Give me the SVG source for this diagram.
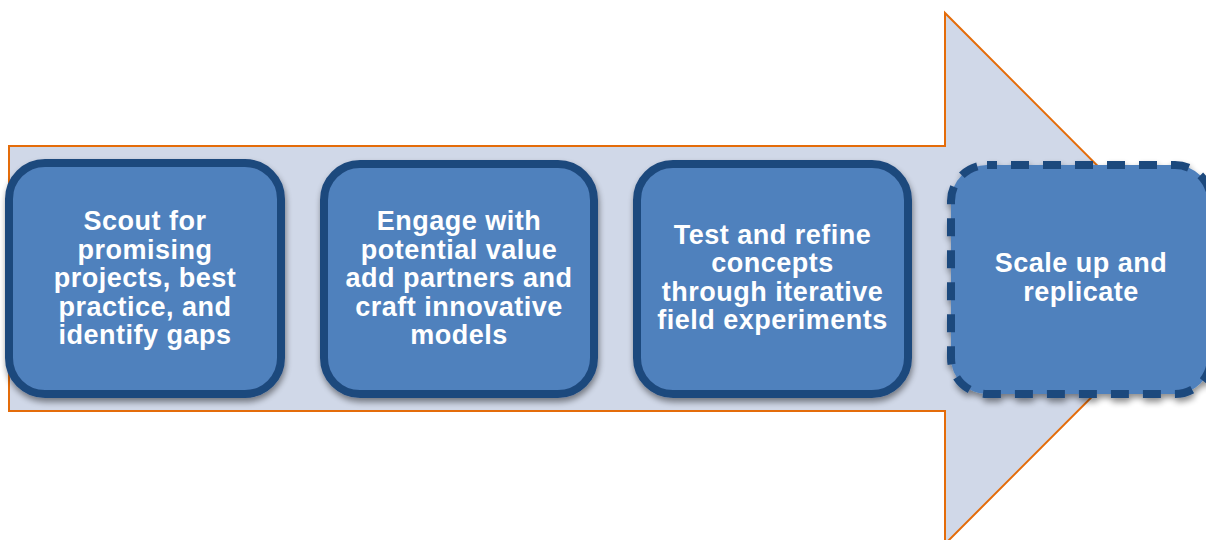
<svg xmlns="http://www.w3.org/2000/svg" width="1206" height="540" viewBox="0 0 1206 540">
<style>
.box{fill:#4F81BD;stroke:#1F497D;stroke-width:8}
.lbl{font-family:"Liberation Sans",Arial,sans-serif;font-weight:bold;font-size:27px;letter-spacing:0.5px;fill:#FFFFFF;text-anchor:middle}
</style>
<defs>
<filter id="sh" x="-10%" y="-10%" width="125%" height="125%">
<feGaussianBlur in="SourceAlpha" stdDeviation="3"/>
<feOffset dx="1" dy="4" result="b"/>
<feComponentTransfer><feFuncA type="linear" slope="0.45"/></feComponentTransfer>
<feMerge><feMergeNode/><feMergeNode in="SourceGraphic"/></feMerge>
</filter>
</defs>
<rect width="1206" height="540" fill="#FFFFFF"/>
<g id="connectors">
<polygon id="big-arrow" points="9,146 945,146 945,13 1210,278.5 945,544 945,411 9,411" fill="#D0D8E8" stroke="#E46C0A" stroke-width="2"/>
</g>
<g id="node1">
<rect class="box" x="9" y="163" width="272" height="231" rx="36" filter="url(#sh)"/>
<text class="lbl" x="145"><tspan x="145" y="230">Scout for</tspan><tspan x="145" y="258.5">promising</tspan><tspan x="145" y="287">projects, best</tspan><tspan x="145" y="315.5">practice, and</tspan><tspan x="145" y="344">identify gaps</tspan></text>
</g>
<g id="node2">
<rect class="box" x="324" y="164" width="270" height="230" rx="36" filter="url(#sh)"/>
<text class="lbl" x="459"><tspan x="459" y="230">Engage with</tspan><tspan x="459" y="258.5">potential value</tspan><tspan x="459" y="287">add partners and</tspan><tspan x="459" y="315.5">craft innovative</tspan><tspan x="459" y="344">models</tspan></text>
</g>
<g id="node3">
<rect class="box" x="637" y="164" width="271" height="230" rx="36" filter="url(#sh)"/>
<text class="lbl" x="772.5"><tspan x="772.5" y="243.5">Test and refine</tspan><tspan x="772.5" y="272">concepts</tspan><tspan x="772.5" y="300.5">through iterative</tspan><tspan x="772.5" y="329">field experiments</tspan></text>
</g>
<g id="node4">
<rect class="box" x="951" y="165" width="260" height="229" rx="36" stroke-dasharray="18,14" stroke-dashoffset="8" filter="url(#sh)"/>
<text class="lbl" x="1081"><tspan x="1081" y="272">Scale up and</tspan><tspan x="1081" y="300.5">replicate</tspan></text>
</g>
</svg>
